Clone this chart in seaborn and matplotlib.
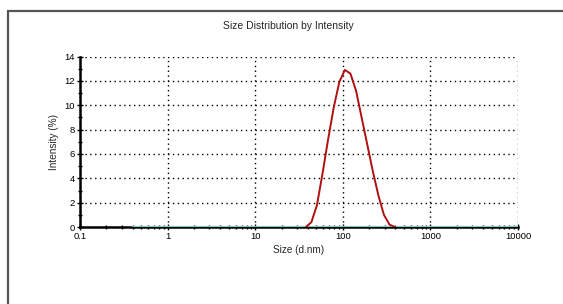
import matplotlib
matplotlib.use("Agg")
import matplotlib.pyplot as plt
import matplotlib.ticker as mticker
from matplotlib.patches import Rectangle
import seaborn as sns
import pandas as pd

# size bins (d.nm) and intensity (%)
sizes = [37.84, 43.82, 50.75, 58.77, 68.06, 78.82, 91.28, 105.7, 122.4,
         141.8, 164.2, 190.1, 220.2, 255.0, 295.3, 342.0, 396.1]
intensity = [0, 0.4, 1.8, 4.4, 7.2, 9.8, 11.9, 12.9, 12.6,
             11.2, 9.0, 6.8, 4.6, 2.6, 1.0, 0.2, 0]
baseline_sizes = [0.4, 10000]
baseline_vals = [0, 0]

x_ticks = [0.1, 1, 10, 100, 1000, 10000]
x_labels = ["0.1", "1", "10", "100", "1000", "10000"]
y_ticks = [0, 2, 4, 6, 8, 10, 12, 14]

df = pd.DataFrame({"size": sizes, "intensity": intensity})
base = pd.DataFrame({"size": baseline_sizes, "intensity": baseline_vals})

sns.set_style("white")
plt.rcParams['font.family'] = ['Liberation Sans', 'DejaVu Sans']

fig = plt.figure(figsize=(5.63, 3.04), dpi=100)
ax = fig.add_axes([0.142, 0.253, 0.778, 0.561])

# outer frame like the instrument report
fig.patches.append(Rectangle((8 / 563, -0.2), 1.2, 1 - 11 / 304 + 0.2,
                             transform=fig.transFigure, fill=False,
                             edgecolor="#555555", linewidth=1.6))

sns.lineplot(data=base, x="size", y="intensity", ax=ax, color="#7fc8c8",
             linewidth=1.6, zorder=3)
sns.lineplot(data=df, x="size", y="intensity", ax=ax, color="#b01010",
             linewidth=1.4, zorder=4)

ax.set_xscale("log")
ax.set_xlim(0.1, 10000)
ax.set_ylim(0, 14)
ax.set_xticks(x_ticks)
ax.set_xticklabels(x_labels)
ax.set_yticks(y_ticks)
ax.yaxis.set_minor_locator(mticker.MultipleLocator(1))
ax.xaxis.set_minor_locator(mticker.LogLocator(base=10, subs=range(2, 10)))
ax.xaxis.set_minor_formatter(mticker.NullFormatter())

ax.grid(True, which="major", linestyle=(0, (1, 2.5)), color="black",
        linewidth=1.0)
for s in ["top", "right"]:
    ax.spines[s].set_visible(False)
for s in ["left", "bottom"]:
    ax.spines[s].set_linewidth(1.8)
    ax.spines[s].set_color("black")

ax.tick_params(axis="both", which="major", direction="inout", length=4,
               width=1.0, labelsize=6.8, pad=1.5, colors="black")
ax.tick_params(axis="both", which="minor", direction="inout", length=3,
               width=1.0, colors="black")
ax.tick_params(left=True, bottom=True, which="both")

ax.set_xlabel("Size (d.nm)", fontsize=7.2, labelpad=3)
ax.set_ylabel("Intensity (%)", fontsize=7.2, labelpad=4)
fig.text(0.512, 0.914, "Size Distribution by Intensity", ha="center",
         va="center", fontsize=7.5)

fig.savefig("out.png", dpi=100, facecolor="white")
